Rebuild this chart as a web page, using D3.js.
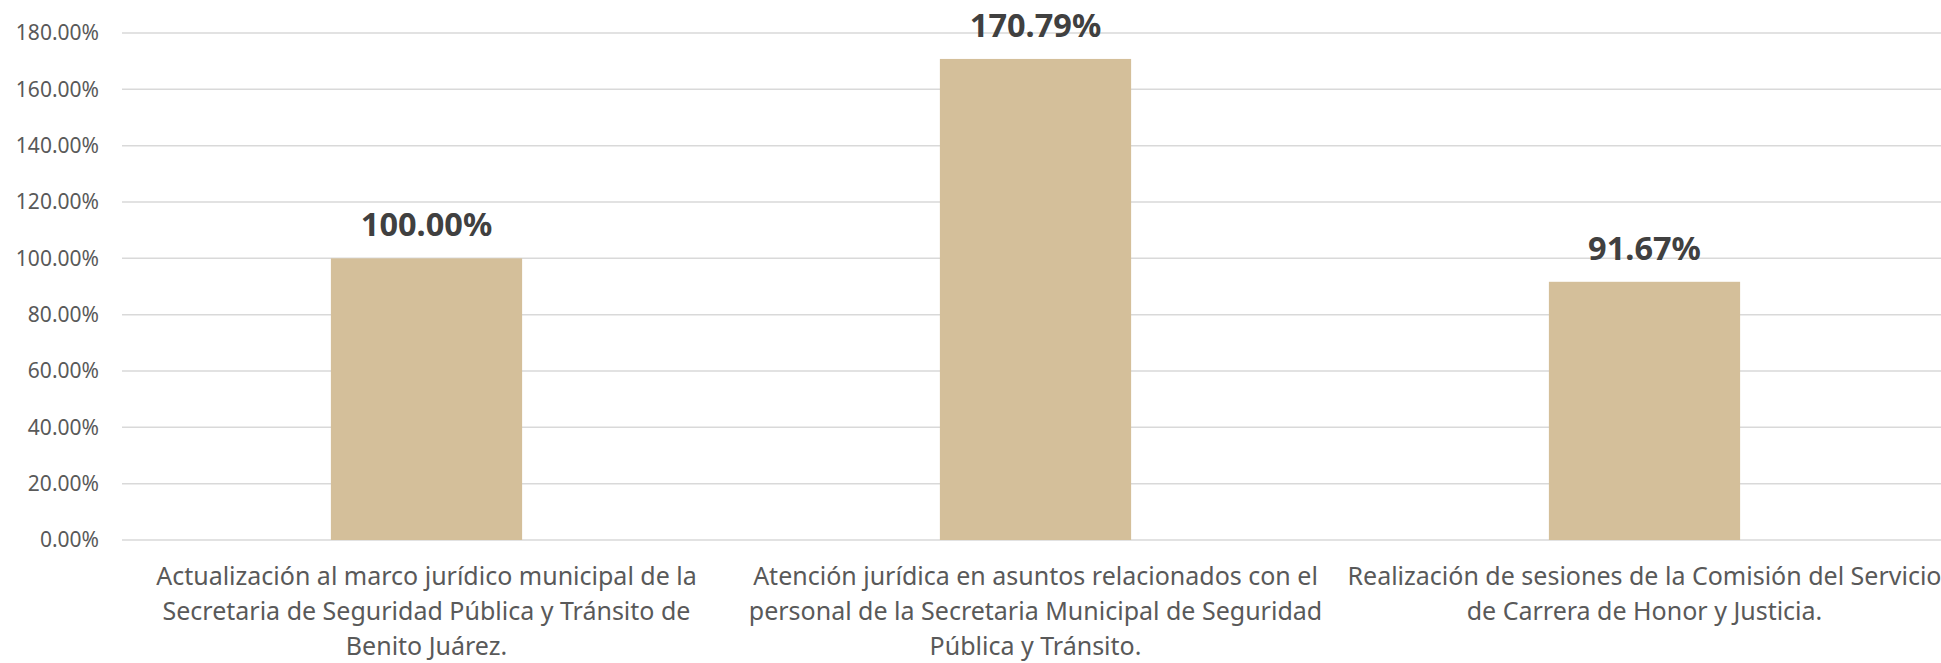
<!DOCTYPE html>
<html><head><meta charset="utf-8">
<script src="https://cdn.jsdelivr.net/npm/d3@7"></script>
<style>html,body{margin:0;padding:0;background:#fff;overflow:hidden}</style>
</head><body>
<svg id="c" width="1941" height="663"></svg>
<script>
const categories = [
  ["Actualización al marco jurídico municipal de la", "Secretaria de Seguridad Pública y Tránsito de", "Benito Juárez."],
  ["Atención jurídica en asuntos relacionados con el", "personal de la Secretaria Municipal de Seguridad", "Pública y Tránsito."],
  ["Realización de sesiones de la Comisión del Servicio", "de Carrera de Honor y Justicia."]
];
const values = [1.0, 1.7079, 0.9167];
const tickValues = [0, 0.2, 0.4, 0.6, 0.8, 1.0, 1.2, 1.4, 1.6, 1.8];

(function() {
const svg = d3.select("#c");
const mLeft = 122, mRight = 1949, mTop = 33, mBottom = 540;
const font = "'Noto Sans', 'Open Sans', sans-serif";

const x = d3.scaleBand().domain(d3.range(values.length)).range([mLeft, mRight])
  .paddingInner(0.686).paddingOuter(0.343);
const y = d3.scaleLinear().domain([0, 1.8]).range([mBottom, mTop]);
const fmt = d3.format(".2%");

svg.append("g").selectAll("line").data(tickValues).join("line")
  .attr("x1", mLeft).attr("x2", 1941)
  .attr("y1", d => y(d)).attr("y2", d => y(d))
  .attr("stroke", "#d9d9d9").attr("stroke-width", 1.5);

const yAxis = d3.axisLeft(y).tickValues(tickValues).tickFormat(fmt).tickSize(0).tickPadding(0);
const ya = svg.append("g").attr("transform", `translate(${99},0)`).call(yAxis);
ya.select(".domain").remove();
ya.selectAll("text").attr("fill", "#595959").style("font-family", font).style("font-size", "21px");

svg.append("g").selectAll("rect").data(values).join("rect")
  .attr("x", (d, i) => x(i)).attr("width", x.bandwidth())
  .attr("y", d => y(d)).attr("height", d => y(0) - y(d))
  .attr("fill", "#d4bf9a");

svg.append("g").selectAll("text").data(values).join("text")
  .attr("x", (d, i) => x(i) + x.bandwidth() / 2)
  .attr("y", d => y(d) - 22)
  .attr("text-anchor", "middle")
  .attr("fill", "#404040")
  .style("font-family", font).style("font-size", "32.5px").style("font-weight", "bold")
  .text(d => fmt(d));

const cg = svg.append("g").selectAll("text").data(categories).join("text")
  .attr("text-anchor", "middle")
  .attr("fill", "#595959")
  .style("font-family", font).style("font-size", "25px");
cg.each(function(lines, i) {
  d3.select(this).selectAll("tspan").data(lines).join("tspan")
    .attr("x", x(i) + x.bandwidth() / 2)
    .attr("y", (l, j) => 585 + j * 35)
    .text(l => l);
});
})();
</script>
</body></html>
